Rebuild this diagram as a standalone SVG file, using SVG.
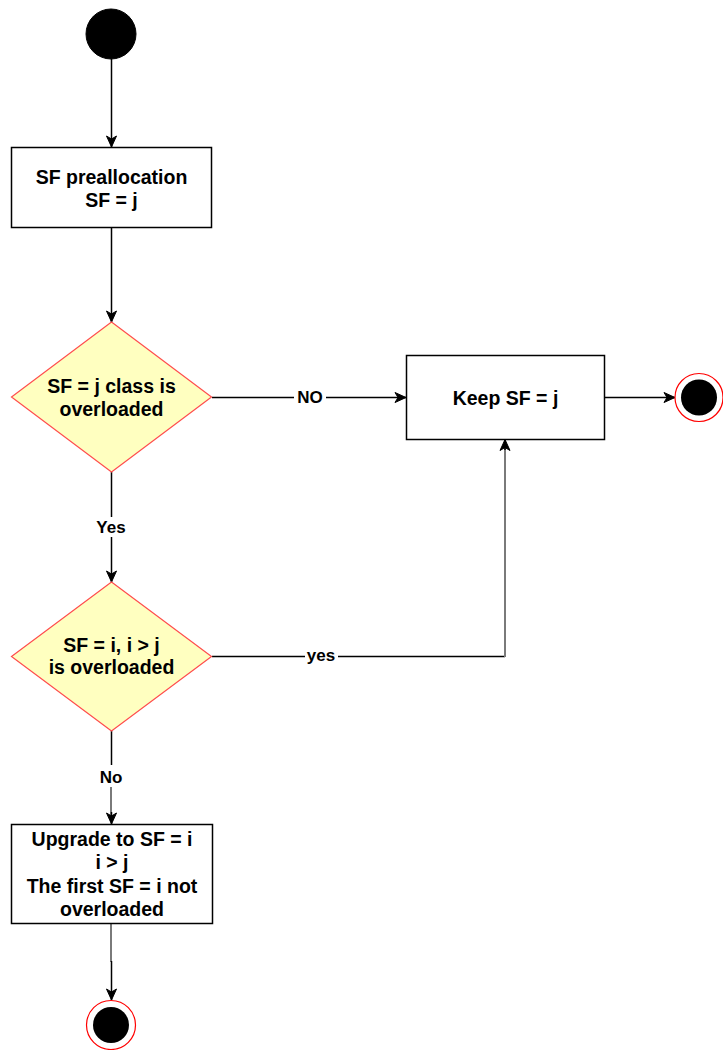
<svg xmlns="http://www.w3.org/2000/svg" width="723" height="1050" viewBox="0 0 723 1050">
<defs>
<marker id="arr" markerUnits="userSpaceOnUse" markerWidth="13" markerHeight="13" viewBox="0 0 13 13" refX="12" refY="6.5" orient="auto">
<path d="M1,1.5 L12,6.5 L1,11.5 L4,6.5 z" fill="#000" stroke="#000" stroke-width="1"/>
</marker>
<style>
.box{fill:#fff;stroke:#000;stroke-width:1.5}
.dia{fill:#ffffc0;stroke:#ff4d4d;stroke-width:1.2}
.t{font-family:"Liberation Sans",Arial,sans-serif;font-weight:bold;font-size:19.5px;fill:#000;text-anchor:middle}
.lbl{font-family:"Liberation Sans",Arial,sans-serif;font-weight:bold;font-size:17px;fill:#000;text-anchor:middle}
.c{fill:none;stroke:#000;stroke-width:1.5}
.g{fill:none;stroke:#7a7a7a;stroke-width:2}
</style>
</defs>
<rect width="723" height="1050" fill="#fff"/>
<g id="connectors">
<path class="c" d="M111.5,59 L111.5,147" marker-end="url(#arr)"/>
<path class="c" d="M111.5,227 L111.5,322" marker-end="url(#arr)"/>
<path class="c" d="M212,397.5 L406,397.5" marker-end="url(#arr)"/>
<path class="c" d="M605,397.5 L675,397.5" marker-end="url(#arr)"/>
<path class="c" d="M111.5,472 L111.5,582" marker-end="url(#arr)"/>
<path class="c" d="M212,656.5 L505,656.5"/>
<path class="g" d="M505,657 L505,445"/>
<path class="c" d="M505,450 L505,439.5" marker-end="url(#arr)"/>
<path class="c" d="M111.5,730 L111.5,765"/>
<path class="g" d="M111,787 L111,815"/>
<path class="c" d="M111.5,812 L111.5,824" marker-end="url(#arr)"/>
<path class="g" d="M111,924 L111,962"/>
<path class="c" d="M111.5,961 L111.5,1000" marker-end="url(#arr)"/>
<rect x="294" y="388" width="32" height="18" fill="#fff"/>
<text class="lbl" x="310" y="403">NO</text>
<rect x="94" y="517" width="34" height="20" fill="#fff"/>
<text class="lbl" x="111" y="533">Yes</text>
<rect x="305" y="647" width="33" height="18" fill="#fff"/>
<text class="lbl" x="321" y="661">yes</text>
<text class="lbl" x="111" y="783">No</text>
</g>
<g id="start">
<circle cx="111" cy="34" r="25" fill="#000" stroke="#000"/>
</g>
<g id="prealloc">
<rect class="box" x="11.5" y="147.5" width="200" height="80"/>
<text class="t" x="111.5" y="184">SF preallocation</text>
<text class="t" x="111.5" y="207">SF = j</text>
</g>
<g id="decision1">
<polygon class="dia" points="111.5,322 211.5,397 111.5,472 11.5,397"/>
<text class="t" x="111.5" y="393">SF = j class is</text>
<text class="t" x="111.5" y="416">overloaded</text>
</g>
<g id="keep">
<rect class="box" x="406.5" y="355.5" width="198" height="84"/>
<text class="t" x="505.5" y="405">Keep SF = j</text>
</g>
<g id="end1">
<circle cx="699" cy="397.5" r="24" fill="#fff" stroke="#ff0000" stroke-width="1.2"/>
<circle cx="699" cy="397.5" r="18" fill="#000"/>
</g>
<g id="decision2">
<polygon class="dia" points="111.5,582 211.5,656.5 111.5,731 11.5,656.5"/>
<text class="t" x="111.5" y="652">SF = i, i &gt; j</text>
<text class="t" x="111.5" y="674">is overloaded</text>
</g>
<g id="upgrade">
<rect class="box" x="11.5" y="824.5" width="201" height="99"/>
<text class="t" x="112" y="846">Upgrade to SF = i</text>
<text class="t" x="112" y="869">i &gt; j</text>
<text class="t" x="112" y="893">The first SF = i not</text>
<text class="t" x="112" y="916">overloaded</text>
</g>
<g id="end2">
<circle cx="111" cy="1025" r="24.5" fill="#fff" stroke="#ff0000" stroke-width="1.2"/>
<circle cx="111" cy="1025" r="18" fill="#000"/>
</g>
</svg>
